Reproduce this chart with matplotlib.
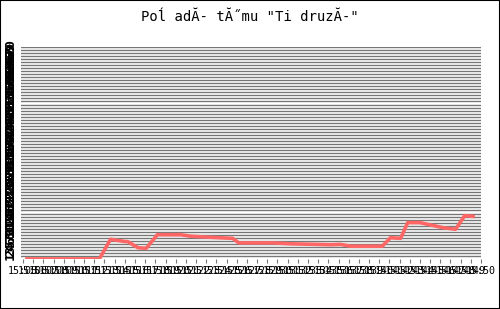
#!/usr/bin/env python3

"""Team ranking over time, drawn in the style of the old GD-rendered chart."""

import matplotlib as mpl

mpl.use("Agg")
import matplotlib.pyplot as plt
from matplotlib.patches import Rectangle

TITLE = "Poĺ adĂ- tĂ˝mu \"Ti druzĂ-\""

# minutes after 15:05 and the plotted value
minutes = [0.2, 7.5, 8.6, 9.9, 10.3, 11.3, 12.1, 13.2, 15.5, 16.5, 18.1, 20.6,
           21.2, 24.6, 26.3, 30.2, 31.2, 32.2, 35.3, 36.1, 37.1, 37.8, 39.0,
           41.3, 42.5, 43.4, 44.4]
values = [0.0, 0.0, 6.5, 5.8, 5.7, 3.7, 3.5, 8.0, 8.0, 7.5, 7.2, 6.8,
          5.3, 5.3, 5.0, 4.7, 4.8, 4.2, 4.2, 7.0, 6.8, 12.0, 12.0,
          10.3, 9.8, 14.3, 14.0]

# one tick per minute, 15:05 .. 15:50
tick_minutes = list(range(0, 46))
tick_labels = [f"15:{5 + m:02d}" for m in tick_minutes]

y_ticks = list(range(1, 71))
y_labels = [str(v) for v in y_ticks]


def main():
    fig = plt.figure(figsize=(5.0, 3.09), dpi=100)
    fig.patches.append(Rectangle((0, 0), 1, 1, transform=fig.transFigure,
                                 fill=False, edgecolor="black", linewidth=1.5))
    ax = fig.add_axes([0.042, 0.162, 0.92, 0.686])

    ax.set_xlim(-0.2, 45)
    ax.set_ylim(0, 70)
    for v in y_ticks:
        ax.axhline(v, color="#777777", linewidth=1.0, zorder=1)

    ax.plot(minutes, values, color="#ff6666", linewidth=2.6, zorder=3,
            solid_capstyle="butt")

    for s in ax.spines.values():
        s.set_visible(False)

    ax.set_xticks(tick_minutes)
    ax.set_xticklabels(tick_labels, fontsize=7.2, family="DejaVu Sans Mono")
    ax.tick_params(axis="x", length=3, color="#777777", pad=2)

    ax.set_yticks(y_ticks)
    ax.set_yticklabels(y_labels, fontsize=9.5, family="DejaVu Sans Mono",
                       rotation=90, va="center", fontweight="bold")
    ax.tick_params(axis="y", length=0, pad=3)

    fig.text(0.5, 0.945, TITLE, ha="center", va="center", fontsize=10,
             family="DejaVu Sans Mono")

    fig.savefig("out.png", dpi=100)


if __name__ == "__main__":
    main()
